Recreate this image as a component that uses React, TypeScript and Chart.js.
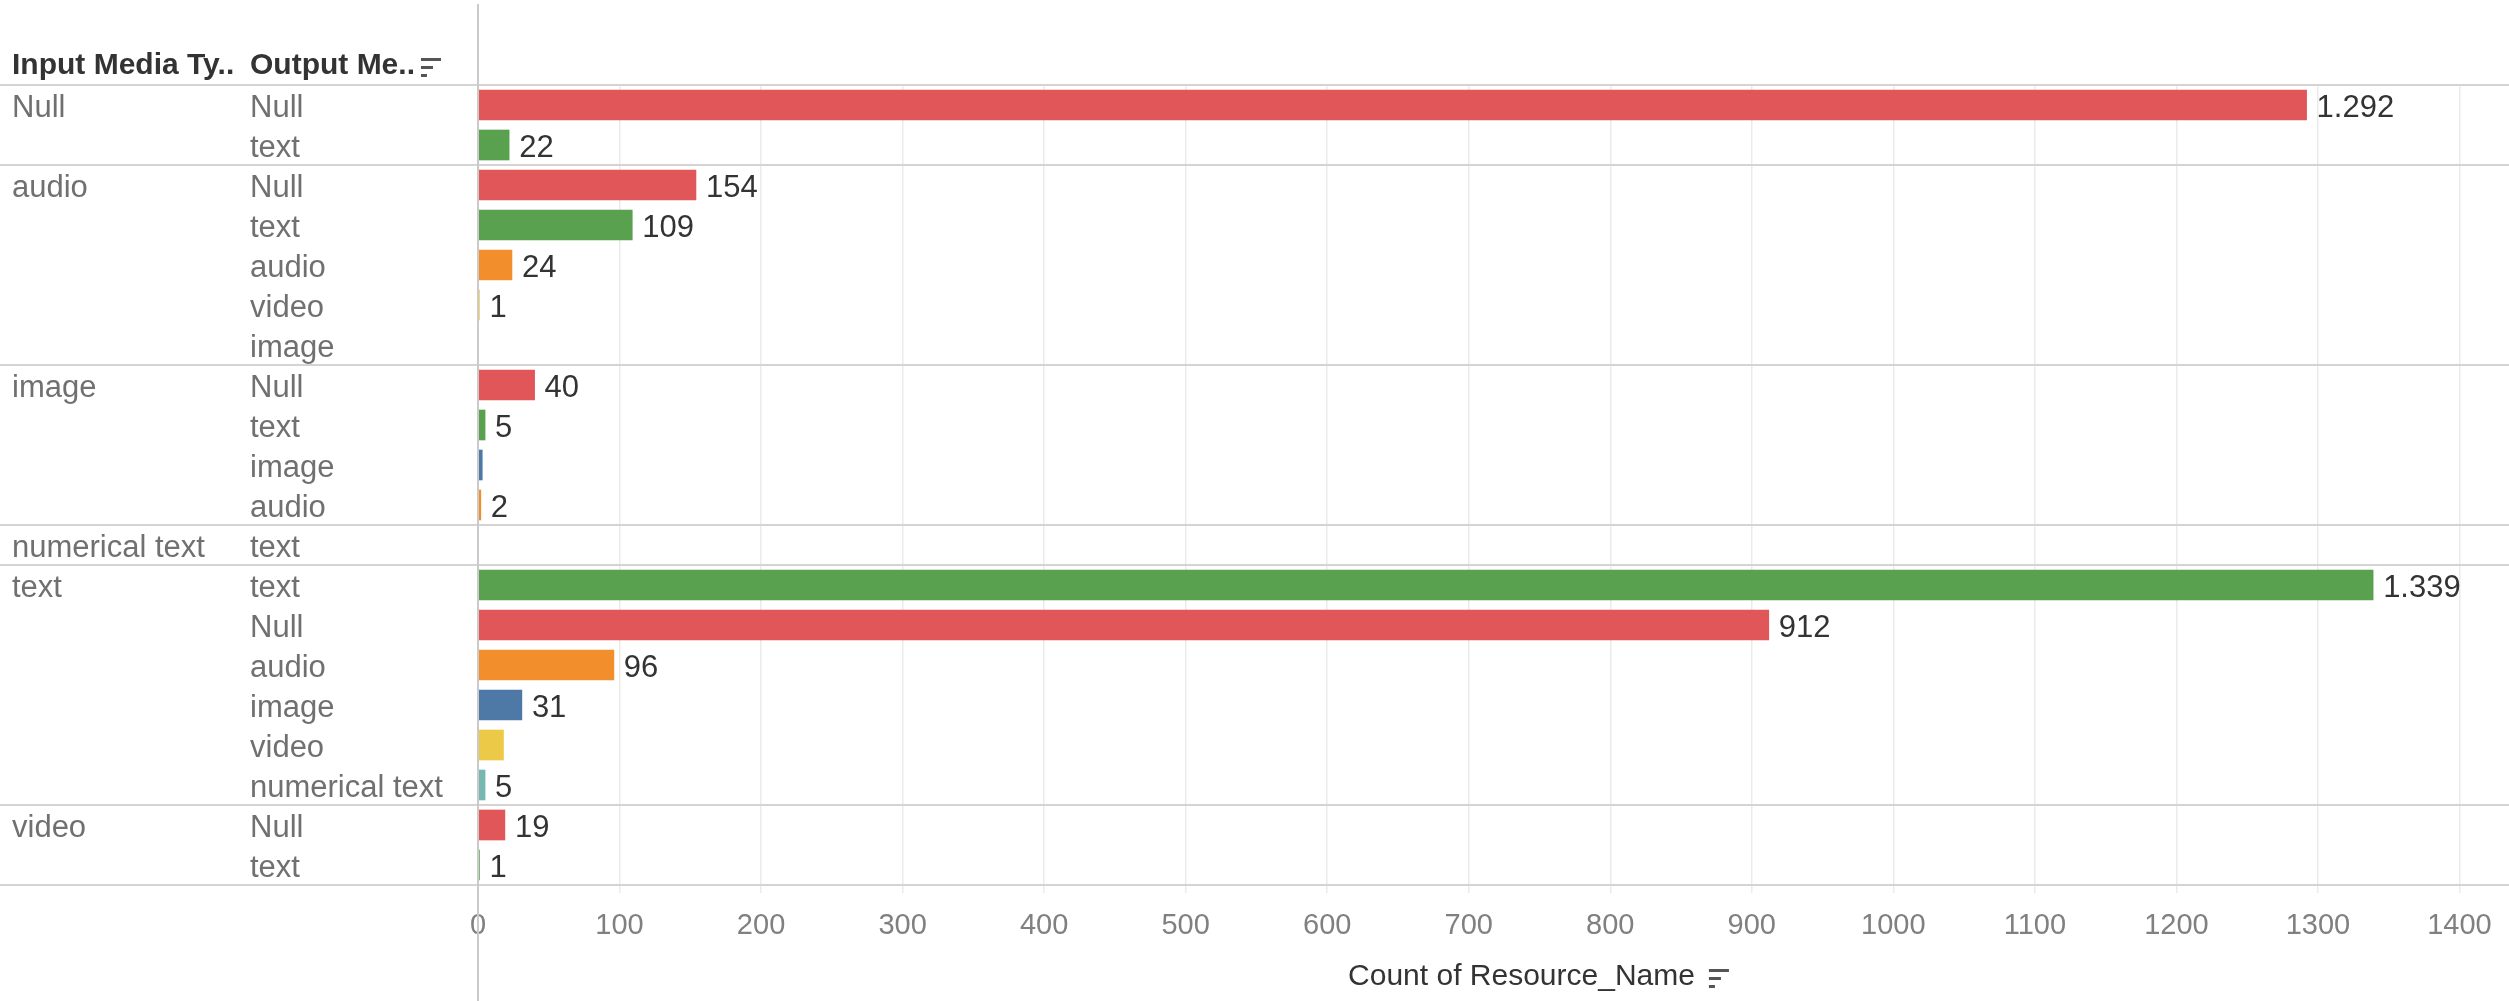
import React, { useEffect, useRef } from "react";
import { Chart, registerables } from "chart.js";

Chart.register(...registerables);

// ---------- data ----------
const inputTypes = [
  "Null", "Null",
  "audio", "audio", "audio", "audio", "audio",
  "image", "image", "image", "image",
  "numerical text",
  "text", "text", "text", "text", "text", "text",
  "video", "video",
];
const outputTypes = [
  "Null", "text",
  "Null", "text", "audio", "video", "image",
  "Null", "text", "image", "audio",
  "text",
  "text", "Null", "audio", "image", "video", "numerical text",
  "Null", "text",
];
const counts: (number | null)[] = [
  1292, 22,
  154, 109, 24, 1, null,
  40, 5, 3, 2,
  null,
  1339, 912, 96, 31, 18, 5,
  19, 1,
];
const labelVisible = [
  true, true,
  true, true, true, true, false,
  true, true, false, true,
  false,
  true, true, true, true, false, true,
  true, true,
];
const xTicks = [0, 100, 200, 300, 400, 500, 600, 700, 800, 900, 1000, 1100, 1200, 1300, 1400];
const xMax = 1435;
const typeColors: Record<string, string> = {
  Null: "#e15759",
  text: "#59a14f",
  audio: "#f28e2b",
  image: "#4e79a7",
  video: "#edc948",
  "numerical text": "#76b7b2",
};
const headerInput = "Input Media Ty..";
const headerOutput = "Output Me..";
const axisTitle = "Count of Resource_Name";

// ---------- helpers ----------
const FONT = "'Liberation Sans', Arial, sans-serif";
const fmt = (v: number) => String(v).replace(/\B(?=(\d{3})+(?!\d))/g, ".");
const inputLabels = inputTypes.map((t, i) => (i === 0 || inputTypes[i - 1] !== t ? t : ""));
const groupStarts = inputTypes
  .map((t, i) => (i === 0 || inputTypes[i - 1] !== t ? i : -1))
  .filter((i) => i >= 0);

function sortIcon(ctx: CanvasRenderingContext2D, x: number, y: number) {
  ctx.fillStyle = "#555555";
  ctx.fillRect(x, y, 20, 3);
  ctx.fillRect(x, y + 8, 12, 3);
  ctx.fillRect(x, y + 16, 6, 3);
}

const decor = {
  id: "tableauDecor",
  afterDraw(chart: any) {
    const ctx: CanvasRenderingContext2D = chart.ctx;
    const ys = chart.scales.y;
    const y2 = chart.scales.y2;
    const area = chart.chartArea;
    const n = outputTypes.length;
    const half = (ys.getPixelForValue(1) - ys.getPixelForValue(0)) / 2;
    ctx.save();

    // row-group separators
    ctx.strokeStyle = "#d4d4d4";
    ctx.lineWidth = 2;
    const bounds = [...groupStarts, n];
    bounds.forEach((b) => {
      const yy = b < n ? ys.getPixelForValue(b) - half : ys.getPixelForValue(n - 1) + half;
      ctx.beginPath();
      ctx.moveTo(0, yy);
      ctx.lineTo(chart.width, yy);
      ctx.stroke();
    });

    // vertical axis line
    ctx.strokeStyle = "#cacaca";
    ctx.beginPath();
    ctx.moveTo(area.left, 4);
    ctx.lineTo(area.left, chart.height);
    ctx.stroke();

    // headers
    ctx.fillStyle = "#333333";
    ctx.font = `bold 30px ${FONT}`;
    ctx.textBaseline = "middle";
    ctx.textAlign = "left";
    const hy = area.top - 19;
    ctx.fillText(headerInput, y2.left, hy);
    ctx.fillText(headerOutput, ys.left, hy);
    const ow = ctx.measureText(headerOutput).width;
    sortIcon(ctx, ys.left + ow + 6, hy - 8);

    // data labels
    const meta = chart.getDatasetMeta(0);
    ctx.font = `31px ${FONT}`;
    ctx.fillStyle = "#333333";
    counts.forEach((v, i) => {
      if (v == null || !labelVisible[i]) return;
      const el = meta.data[i];
      ctx.fillText(fmt(v), el.x + 10, el.y + 3);
    });

    // axis title
    ctx.font = `30px ${FONT}`;
    ctx.fillStyle = "#333333";
    ctx.textAlign = "center";
    const tx = (area.left + area.right) / 2 + 28;
    const ty = 977;
    ctx.fillText(axisTitle, tx, ty);
    const tw = ctx.measureText(axisTitle).width;
    sortIcon(ctx, tx + tw / 2 + 14, ty - 8);

    ctx.restore();
  },
};

export default function App() {
  const ref = useRef<HTMLCanvasElement>(null);
  useEffect(() => {
    document.body.style.margin = "0";
    const canvas = ref.current!;
    const rowTicks = {
      crossAlign: "far",
      color: "#707070",
      font: { family: FONT, size: 31 },
      autoSkip: false,
      padding: 0,
      labelOffset: 3,
    };
    const chart = new Chart(canvas, {
      type: "bar",
      data: {
        labels: outputTypes,
        datasets: [
          {
            data: counts as any,
            backgroundColor: outputTypes.map((t) => typeColors[t]),
            barThickness: 30,
            borderWidth: 0,
          },
        ],
      },
      options: {
        indexAxis: "y",
        animation: false,
        responsive: false,
        devicePixelRatio: 1,
        layout: { padding: { left: 12, top: 85, right: 0, bottom: 0 } },
        plugins: { legend: { display: false }, tooltip: { enabled: false } },
        scales: {
          x: {
            type: "linear",
            position: "bottom",
            min: 0,
            max: xMax,
            afterBuildTicks: (s: any) => {
              s.ticks = xTicks.map((v) => ({ value: v }));
            },
            afterFit: (s: any) => {
              s.height = 116;
            },
            ticks: {
              color: "#808080",
              font: { family: FONT, size: 29 },
              padding: 16,
              maxRotation: 0,
              autoSkip: false,
              callback: (v: any) => String(v),
            },
            grid: { color: "#ebebeb", lineWidth: 1.5, tickLength: 8 },
            border: { display: false },
          },
          y: {
            type: "category",
            position: "left",
            weight: 1,
            offset: true,
            grid: { display: false },
            border: { display: false },
            ticks: rowTicks,
            afterFit: (s: any) => {
              s.width = 228;
            },
          },
          y2: {
            type: "category",
            labels: inputLabels,
            position: "left",
            weight: 2,
            offset: true,
            grid: { display: false },
            border: { display: false },
            ticks: rowTicks,
            afterFit: (s: any) => {
              s.width = 238;
            },
          },
        } as any,
      },
      plugins: [decor],
    });
    return () => chart.destroy();
  }, []);
  return (
    <canvas
      ref={ref}
      width={2509}
      height={1001}
      style={{ display: "block", width: 2509, height: 1001 }}
    />
  );
}
